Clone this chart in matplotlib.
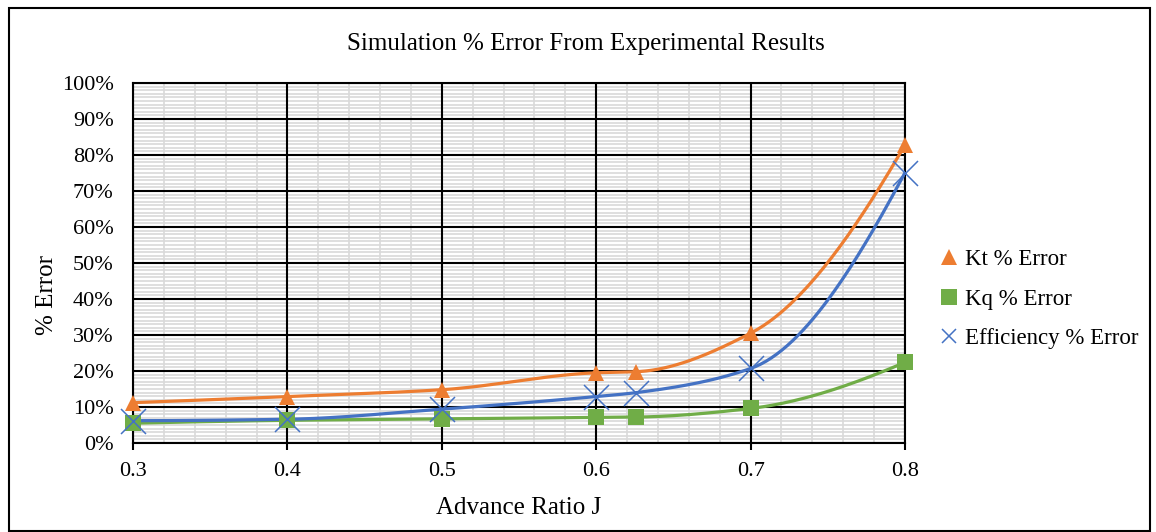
import numpy as np
import matplotlib.pyplot as plt
from matplotlib.lines import Line2D
from matplotlib.patches import Rectangle
from matplotlib.ticker import FixedLocator, MultipleLocator, PercentFormatter

plt.rcParams['font.family'] = ['Liberation Serif', 'DejaVu Serif']

# Advance ratio and % errors (fractions)
J = [0.3, 0.4, 0.5, 0.6, 0.626, 0.7, 0.8]
kt_err = [0.112, 0.129, 0.148, 0.195, 0.198, 0.305, 0.828]
kq_err = [0.055, 0.063, 0.067, 0.071, 0.072, 0.096, 0.224]
eff_err = [0.062, 0.066, 0.094, 0.129, 0.140, 0.207, 0.751]

series = [
    ('Kt % Error', kt_err, '#ED7D31', '^', 12),
    ('Kq % Error', kq_err, '#70AD47', 's', 12),
    ('Efficiency % Error', eff_err, '#4472C4', 'x', 18),
]


def pchip(x, y, n=60):
    # monotone cubic hermite curve through the points
    x = np.asarray(x, float)
    y = np.asarray(y, float)
    h = np.diff(x)
    d = np.diff(y) / h
    m = np.zeros_like(y)
    for k in range(1, len(x) - 1):
        if d[k - 1] * d[k] > 0:
            w1 = 2 * h[k] + h[k - 1]
            w2 = h[k] + 2 * h[k - 1]
            m[k] = (w1 + w2) / (w1 / d[k - 1] + w2 / d[k])

    def end(h0, h1, d0, d1):
        s = ((2 * h0 + h1) * d0 - h0 * d1) / (h0 + h1)
        if np.sign(s) != np.sign(d0):
            s = 0
        elif np.sign(d0) != np.sign(d1) and abs(s) > abs(3 * d0):
            s = 3 * d0
        return s

    m[0] = end(h[0], h[1], d[0], d[1])
    m[-1] = end(h[-1], h[-2], d[-1], d[-2])
    xs, ys = [], []
    for k in range(len(x) - 1):
        t = np.linspace(0, 1, n)
        h00 = 2 * t ** 3 - 3 * t ** 2 + 1
        h10 = t ** 3 - 2 * t ** 2 + t
        h01 = -2 * t ** 3 + 3 * t ** 2
        h11 = t ** 3 - t ** 2
        xs.extend(x[k] + t * h[k])
        ys.extend(h00 * y[k] + h10 * h[k] * m[k] + h01 * y[k + 1] + h11 * h[k] * m[k + 1])
    return np.array(xs), np.array(ys)


fig = plt.figure(figsize=(11.56, 5.32), dpi=100)
rect = [133 / 1156, 89 / 532, 772 / 1156, 360 / 532]

# light minor grid sits on its own axes underneath
bg = fig.add_axes(rect, zorder=0)
bg.set_xlim(0.3, 0.8)
bg.set_ylim(0, 1.0)
xminor = [v for v in np.round(np.arange(0.3, 0.801, 0.02), 3) if round(v * 10, 6) % 1]
yminor = [v / 100 for v in range(0, 101) if v % 10]
bg.xaxis.set_major_locator(FixedLocator(xminor))
bg.yaxis.set_major_locator(FixedLocator(yminor))
bg.grid(color='#D9D9D9', lw=1.2)
bg.tick_params(length=0, labelbottom=False, labelleft=False)
for s in bg.spines.values():
    s.set_visible(False)

ax = fig.add_axes(rect, zorder=1)
ax.patch.set_alpha(0)

handles = []
for label, vals, color, marker, ms in series:
    xs, ys = pchip(J, vals)
    ax.plot(xs, ys, color=color, lw=2.3, zorder=3)
    mew = 1.1 if marker == 'x' else 0
    ax.plot(J, vals, ls='none', marker=marker, ms=ms, color=color,
            mew=mew, zorder=4, clip_on=False)
    handles.append(Line2D([], [], ls='none', marker=marker, color=color,
                          ms=11 if marker != 'x' else 10, mew=mew, label=label))

ax.set_xlim(0.3, 0.8)
ax.set_ylim(0, 1.0)
ax.xaxis.set_major_locator(MultipleLocator(0.1))
ax.yaxis.set_major_locator(MultipleLocator(0.1))
ax.yaxis.set_major_formatter(PercentFormatter(1.0, decimals=0))
ax.xaxis.set_major_formatter(lambda v, p: f'{v:.1f}')

ax.grid(which='major', color='black', lw=1.5)
ax.set_axisbelow(True)
for s in ax.spines.values():
    s.set_linewidth(1.5)
ax.tick_params(axis='x', which='major', length=5, width=1.5, labelsize=16, pad=9)
ax.tick_params(axis='y', which='major', length=0, labelsize=16, pad=14)

ax.set_xlabel('Advance Ratio J', fontsize=18, labelpad=11)
fig.text(47 / 1156, 1 - 295 / 532, '% Error', rotation=90, fontsize=18,
         ha='center', va='center')
fig.text(586 / 1156, 1 - 44 / 532, 'Simulation % Error From Experimental Results',
         fontsize=18, ha='center', va='center')

ax.legend(handles=handles, loc='center left',
          bbox_to_anchor=(940 / 1156, 1 - 299 / 532),
          bbox_transform=fig.transFigure, frameon=False, fontsize=16.5,
          handlelength=0.8, handletextpad=0.3, labelspacing=0.8,
          borderaxespad=0, borderpad=0)

fig.patches.append(Rectangle((9 / 1156, 1 / 532), 1141 / 1156, 523 / 532,
                             transform=fig.transFigure, fill=False,
                             edgecolor='black', lw=1.5))

fig.savefig('out.png', dpi=100)
